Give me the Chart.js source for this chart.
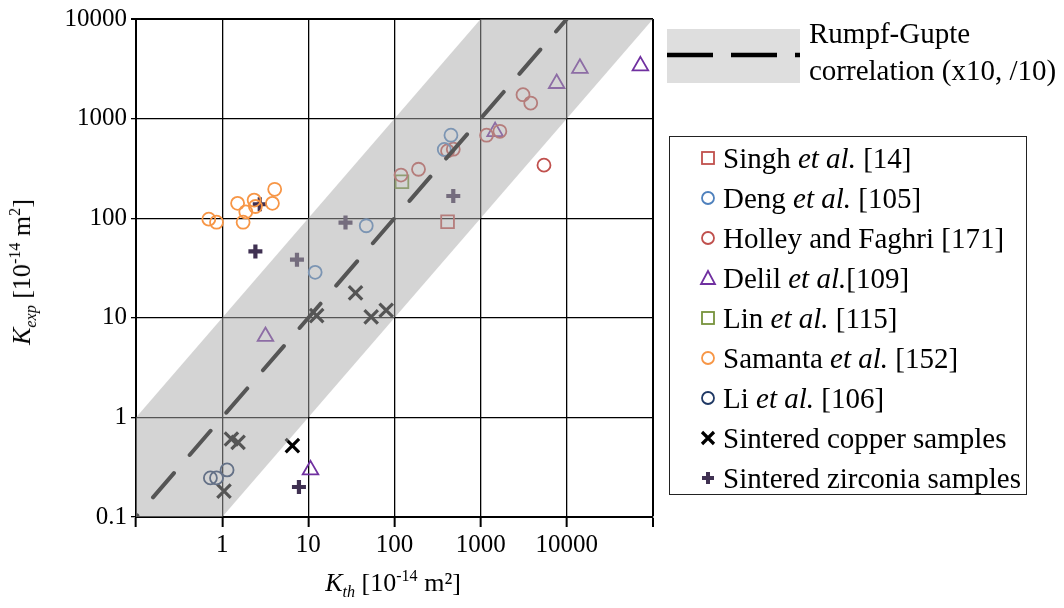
<!DOCTYPE html>
<html>
<head>
<meta charset="utf-8">
<script src="https://cdn.jsdelivr.net/npm/chart.js@4.4.1/dist/chart.umd.min.js"></script>
<style>
  body { margin: 0; background: #fff; }
  #wrap { position: relative; width: 1064px; height: 608px; font-family: "Liberation Serif", "Times New Roman", serif; color: #000; }
  #myChart { position: absolute; left: 0; top: 0; }
  .title { position: absolute; white-space: nowrap; font-size: 26px; line-height: 1; }
  .title sub, .title sup { font-size: 0.62em; line-height: 0; }
  #xTitle { left: 393px; top: 583px; transform: translate(-50%, -50%); }
  #yTitle { left: 22px; top: 272px; transform: translate(-50%, -50%) rotate(-90deg); }
  #rgSwatch { position: absolute; left: 667px; top: 29px; width: 133px; height: 54px; background: #dedede; }
  #rgText { position: absolute; left: 809px; top: 15px; font-size: 29px; line-height: 37px; white-space: nowrap; }
  #legend { position: absolute; left: 669px; top: 136px; width: 356px; height: 357px; border: 1.5px solid #222; }
  .row { position: absolute; left: 0; height: 40px; line-height: 40px; font-size: 29px; white-space: nowrap; }
  .row svg { position: absolute; left: 28px; top: 10px; }
  .row span { position: absolute; left: 53px; top: 0; }
</style>
</head>
<body>
<div id="wrap">
  <canvas id="myChart" width="1064" height="608"></canvas>
  <div id="yTitle" class="title"><i>K</i><sub><i>exp</i></sub> [10<sup>-14</sup> m<sup>2</sup>]</div>
  <div id="xTitle" class="title"><i>K</i><sub><i>th</i></sub> [10<sup>-14</sup> m&sup2;]</div>
  <div id="rgSwatch">
    <svg width="133" height="54"><line x1="0" y1="26" x2="133" y2="26" stroke="#000" stroke-width="4.5" stroke-dasharray="46 18"/></svg>
  </div>
  <div id="rgText">Rumpf-Gupte<br>correlation (x10, /10)</div>
  <div id="legend"></div>
</div>
<script>
// axis ticks
const xTicks = [0.1, 1, 10, 100, 1000, 10000, 100000];
const yTicks = [0.1, 1, 10, 100, 1000, 10000];

// Rumpf-Gupte 1:1 line and its x10 / /10 band
const rgLine = [0.1, 10000];
const bandFactor = 10;

// series (K_th, K_exp)
const singhX = [413];
const singhY = [92];
const dengX = [452, 378, 12, 47];
const dengY = [681, 490, 28.6, 84];
const holleyX = [413, 481, 190, 119, 1170, 1670, 5430, 3100, 3810];
const holleyY = [474, 493, 310, 271, 681, 746, 341, 1738, 1432];
const delilX = [1472, 7620, 14180, 71400, 3.18, 10.6];
const delilY = [740, 2250, 3200, 3380, 6.5, 0.297];
const linX = [122];
const linY = [232];
const samantaX = [0.70, 0.86, 1.51, 1.75, 1.88, 2.35, 2.43, 3.83, 4.07];
const samantaY = [97.8, 91.2, 141, 91.2, 116, 152, 131, 141, 195];
const liX = [0.73, 0.86, 1.14];
const liY = [0.247, 0.247, 0.297];
const copperX = [1.28, 1.53, 6.53, 1.05, 35.3, 12.5, 53.6, 80];
const copperY = [0.607, 0.562, 0.52, 0.182, 17.8, 10.5, 10.2, 11.9];
const zirconiaX = [2.73, 2.43, 7.38, 27, 481, 7.78];
const zirconiaY = [138, 46.4, 38.3, 90.4, 167, 0.2];

const seriesNames = [
    "Singh <i>et al.</i> [14]",
    "Deng <i>et al.</i> [105]",
    "Holley and Faghri [171]",
    "Delil <i>et al.</i>[109]",
    "Lin <i>et al.</i> [115]",
    "Samanta <i>et al.</i> [152]",
    "Li <i>et al.</i> [106]",
    "Sintered copper samples",
    "Sintered zirconia samples"
];
const seriesX = [singhX, dengX, holleyX, delilX, linX, samantaX, liX, copperX, zirconiaX];
const seriesY = [singhY, dengY, holleyY, delilY, linY, samantaY, liY, copperY, zirconiaY];
const seriesColors = ["#c0504d", "#4f81bd", "#c0504d", "#7030a0", "#77933c", "#f79646", "#1f3864", "#000000", "#403152"];
const seriesStyles = ["rect", "circle", "circle", "triangle", "rect", "circle", "circle", "crossRot", "cross"];

const pointSize = { rect: 9, circle: 6.5, triangle: 9, crossRot: 9.5, cross: 7 };
const pointWidth = { rect: 1.8, circle: 1.8, triangle: 1.8, crossRot: 3.2, cross: 4.2 };

const toPoints = (xs, ys) => xs.map((x, i) => ({ x, y: ys[i] }));

const bandPoints = [
    { x: rgLine[0], y: rgLine[0] * bandFactor },
    { x: rgLine[1] / bandFactor, y: rgLine[1] },
    { x: rgLine[1] * bandFactor, y: rgLine[1] },
    { x: rgLine[0] * bandFactor, y: rgLine[0] },
    { x: rgLine[0], y: rgLine[0] }
];

const datasets = [
    {
        label: "band",
        data: bandPoints,
        showLine: true,
        fill: "shape",
        backgroundColor: "rgba(170,170,170,0.5)",
        borderWidth: 0,
        pointRadius: 0,
        tension: 0
    },
    {
        label: "Rumpf-Gupte",
        data: [{ x: rgLine[0], y: rgLine[0] }, { x: rgLine[1], y: rgLine[1] }],
        showLine: true,
        fill: false,
        borderColor: "#000",
        borderWidth: 4,
        borderDash: [32, 24],
        borderDashOffset: 30,
        borderCapStyle: "round",
        pointRadius: 0
    }
];

seriesNames.forEach((name, i) => {
    const style = seriesStyles[i];
    datasets.push({
        label: name,
        data: toPoints(seriesX[i], seriesY[i]),
        showLine: false,
        pointStyle: style,
        pointRadius: pointSize[style],
        pointBorderWidth: pointWidth[style],
        pointBorderColor: seriesColors[i],
        pointBackgroundColor: "rgba(0,0,0,0)"
    });
});

const axisFont = { family: "Liberation Serif", size: 25 };

const ctx = document.getElementById("myChart").getContext("2d");
const myChart = new Chart(ctx, {
    type: "scatter",
    data: { datasets },
    options: {
        responsive: false,
        animation: false,
        events: [],
        layout: { padding: { left: 0, top: 18, right: 411, bottom: 0 } },
        plugins: { legend: { display: false }, tooltip: { enabled: false } },
        scales: {
            x: {
                type: "logarithmic",
                min: 0.1,
                max: 100000,
                afterBuildTicks: (s) => { s.ticks = xTicks.map(v => ({ value: v })); },
                afterFit: (s) => { s.height = 91; },
                border: { display: true, color: "#000", width: 2 },
                grid: {
                    color: "#000",
                    lineWidth: (c) => (c.tick && c.tick.value === 100000 ? 2 : 1.3),
                    drawTicks: true,
                    tickLength: 10,
                    tickColor: "#000",
                    tickWidth: 2
                },
                ticks: {
                    autoSkip: false,
                    maxRotation: 0,
                    padding: 3,
                    color: "#000",
                    font: axisFont,
                    callback: (v) => (v === 0.1 || v === 100000 ? "" : String(v))
                }
            },
            y: {
                type: "logarithmic",
                min: 0.1,
                max: 10000,
                afterBuildTicks: (s) => { s.ticks = yTicks.map(v => ({ value: v })); },
                afterFit: (s) => { s.width = 136; },
                border: { display: true, color: "#000", width: 2 },
                grid: {
                    color: "#000",
                    lineWidth: (c) => (c.tick && c.tick.value === 10000 ? 2 : 1.3),
                    drawTicks: true,
                    tickLength: 5,
                    tickColor: "#000"
                },
                ticks: {
                    autoSkip: false,
                    padding: 4,
                    color: "#000",
                    font: axisFont,
                    callback: (v) => String(v)
                }
            }
        }
    }
});

// legend
const legend = document.getElementById("legend");
const markerSvg = (style, color) => {
    if (style === "rect") return `<rect x="4" y="4" width="12" height="12" fill="none" stroke="${color}" stroke-width="1.8"/>`;
    if (style === "circle") return `<circle cx="10" cy="10" r="6" fill="none" stroke="${color}" stroke-width="1.8"/>`;
    if (style === "triangle") return `<polygon points="10,3 17,16 3,16" fill="none" stroke="${color}" stroke-width="1.8"/>`;
    if (style === "crossRot") return `<path d="M4,4 L16,16 M16,4 L4,16" stroke="${color}" stroke-width="3.2"/>`;
    return `<path d="M10,4 L10,16 M4,10 L16,10" stroke="${color}" stroke-width="4"/>`;
};
seriesNames.forEach((name, i) => {
    const row = document.createElement("div");
    row.className = "row";
    row.style.top = (1 + i * 40) + "px";
    row.innerHTML = `<svg width="20" height="20">${markerSvg(seriesStyles[i], seriesColors[i])}</svg><span>${name}</span>`;
    legend.appendChild(row);
});
</script>
</body>
</html>
